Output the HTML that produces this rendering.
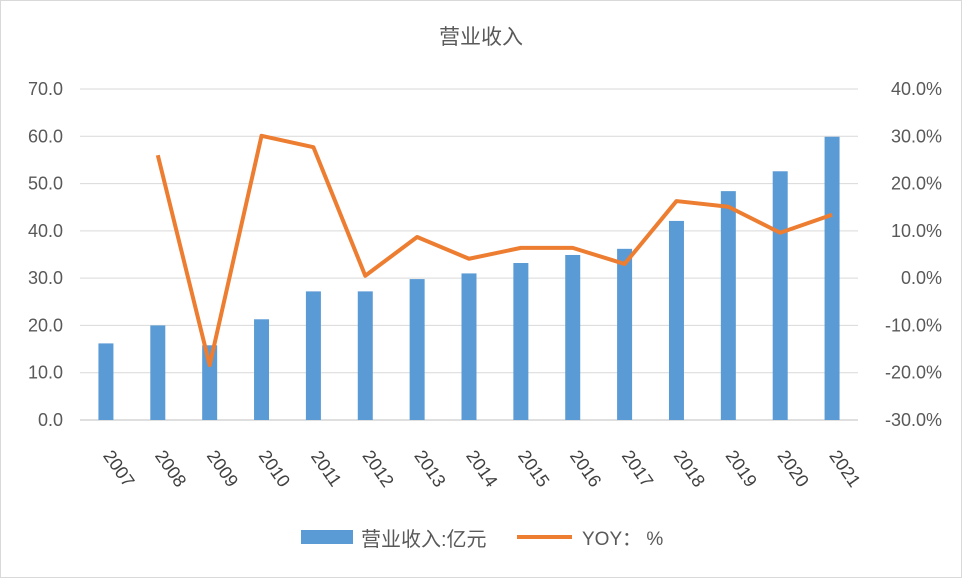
<!DOCTYPE html>
<html><head><meta charset="utf-8"><style>
body{margin:0;background:#fff;}
svg{display:block;font-family:"Liberation Sans","Noto Sans CJK SC",sans-serif;}
</style></head><body>
<svg id="chart" width="962" height="578" viewBox="0 0 962 578" xmlns="http://www.w3.org/2000/svg">
<rect x="0.5" y="0.5" width="961" height="577" fill="#fff" stroke="#d9d9d9"/>
<text x="481" y="44" text-anchor="middle" font-size="21" fill="#595959">营业收入</text>
<g id="grid"></g><g id="bars"></g><g id="line"></g><g id="labels"></g>
<g>
<rect x="301" y="530" width="52" height="14" fill="#5b9bd5"/>
<text x="361" y="546" font-size="20" fill="#595959">营业收入:亿元</text>
<line x1="517" y1="537" x2="572" y2="537" stroke="#ed7d31" stroke-width="4"/>
<text x="582" y="545" font-size="19" fill="#595959">YOY：  %</text>
</g>
</svg>
<script>
const years=["2007","2008","2009","2010","2011","2012","2013","2014","2015","2016","2017","2018","2019","2020","2021"];
const revenue=[16.2,20.0,15.8,21.3,27.2,27.2,29.8,31.0,33.2,34.9,36.2,42.1,48.4,52.6,59.9];
const yoy=[null,26.0,-18.4,30.1,27.7,0.5,8.7,4.1,6.4,6.4,3.0,16.3,15.1,9.6,13.4];
const leftTicks=[0,10,20,30,40,50,60,70];
const rightTicks=[-30,-20,-10,0,10,20,30,40];
const NS="http://www.w3.org/2000/svg";
const x0=80,x1=858,yTop=89,yBot=420;
const step=(x1-x0)/years.length;
const xc=i=>x0+step*(i+0.5);
const yL=v=>yBot-(v/70)*(yBot-yTop);
const yR=v=>yBot-((v+30)/70)*(yBot-yTop);
function mk(t,a,p){const e=document.createElementNS(NS,t);for(const k in a)e.setAttribute(k,a[k]);p.appendChild(e);return e;}
const grid=document.getElementById('grid'),bars=document.getElementById('bars'),line=document.getElementById('line'),labels=document.getElementById('labels');
leftTicks.forEach((v,i)=>{
 const y=yL(v);
 const g=mk('line',{x1:x0,x2:x1,y1:y,y2:y,stroke:v===0?'#bfbfbf':'#d9d9d9','stroke-width':1},grid);
 
 
 const t=mk('text',{x:63,y:y+6,'text-anchor':'end','font-size':18,fill:'#595959'},labels);
 t.textContent=v.toFixed(1);
 
 
});
rightTicks.forEach(v=>{
 const t=mk('text',{x:942,y:yR(v)+6,'text-anchor':'end','font-size':18,fill:'#595959'},labels);
 t.textContent=v.toFixed(1)+'%';
 
 
});
years.forEach((yr,i)=>{
 const b=mk('rect',{x:xc(i)-7.5,y:yL(revenue[i]),width:15,height:yBot-yL(revenue[i]),fill:'#5b9bd5'},bars);
 
 
 const t=mk('text',{x:0,y:0,'text-anchor':'middle','font-size':18,fill:'#404040',transform:`translate(${xc(i)+8},${472}) rotate(55)`},labels);
 t.textContent=yr;
 
 
});
let d='';
yoy.forEach((v,i)=>{if(v===null)return;d+=(d?'L':'M')+xc(i)+','+yR(v);});
const p=mk('path',{d:d,fill:'none',stroke:'#ed7d31','stroke-width':4,'stroke-linejoin':'round'},line);


</script>
</body></html>
